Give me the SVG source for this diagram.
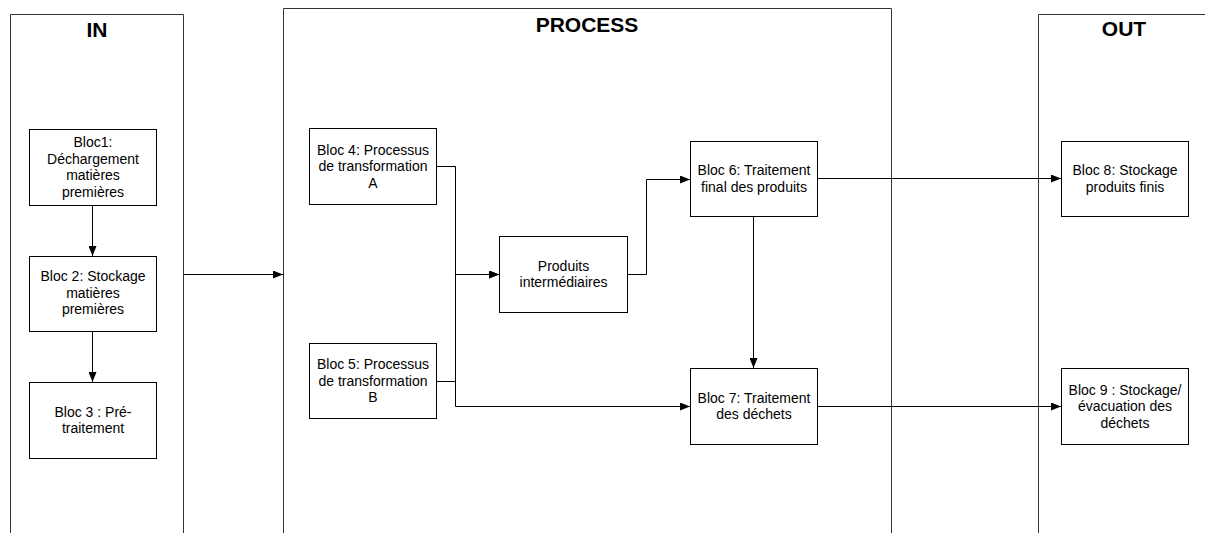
<svg xmlns="http://www.w3.org/2000/svg" width="1205" height="533" viewBox="0 0 1205 533">
  <style>
    .lane { fill: none; stroke: #333; stroke-width: 1; }
    .box { fill: #fff; stroke: #000; stroke-width: 1; }
    .title { font-family: "Liberation Sans", Arial, sans-serif; font-size: 21px; font-weight: bold; text-anchor: middle; fill: #000; }
    .t { font-family: "Liberation Sans", Arial, sans-serif; font-size: 14px; text-anchor: middle; fill: #000; }
    .c { fill: none; stroke: #000; stroke-width: 1; }
  </style>
  <defs>
    <marker id="arr" markerUnits="userSpaceOnUse" markerWidth="10" markerHeight="8" refX="10" refY="4" orient="auto">
      <path d="M0,0 L10,4 L0,8 z" fill="#000"/>
    </marker>
  </defs>
  <rect width="1205" height="533" fill="#fff"/>

  <g id="lane-in">
    <path class="lane" d="M10.5,540 V14.5 H183.5 V540"/>
    <text class="title" x="97" y="37">IN</text>
  </g>
  <g id="lane-process">
    <path class="lane" d="M283.5,540 V8.5 H891.5 V540"/>
    <text class="title" x="587" y="31.5">PROCESS</text>
  </g>
  <g id="lane-out">
    <path class="lane" d="M1038.5,540 V14.5 H1215"/>
    <text class="title" x="1124" y="36">OUT</text>
  </g>

  <g id="connectors">
    <path class="c" d="M92.5,205 V256" marker-end="url(#arr)"/>
    <path class="c" d="M92.5,331 V382" marker-end="url(#arr)"/>
    <path class="c" d="M184,274.5 H283" marker-end="url(#arr)"/>
    <path class="c" d="M436,166.5 H455.5 V274.5 H499" marker-end="url(#arr)"/>
    <path class="c" d="M436,381.5 H455.5 V274.5 H499" marker-end="url(#arr)"/>
    <path class="c" d="M436,381.5 H455.5 V406.5 H690" marker-end="url(#arr)"/>
    <path class="c" d="M627,274.5 H646.5 V179.5 H690" marker-end="url(#arr)"/>
    <path class="c" d="M753.5,216 V368" marker-end="url(#arr)"/>
    <path class="c" d="M817,178.5 H1061" marker-end="url(#arr)"/>
    <path class="c" d="M817,406.5 H1061" marker-end="url(#arr)"/>
  </g>

  <g id="bloc1">
    <rect class="box" x="29.5" y="129.5" width="127" height="76"/>
    <text class="t" x="93" y="147">Bloc1:</text>
    <text class="t" x="93" y="163.5">Déchargement</text>
    <text class="t" x="93" y="180">matières</text>
    <text class="t" x="93" y="196.5">premières</text>
  </g>
  <g id="bloc2">
    <rect class="box" x="29.5" y="256.5" width="127" height="75"/>
    <text class="t" x="93" y="281">Bloc 2: Stockage</text>
    <text class="t" x="93" y="297.5">matières</text>
    <text class="t" x="93" y="314">premières</text>
  </g>
  <g id="bloc3">
    <rect class="box" x="29.5" y="382.5" width="127" height="76"/>
    <text class="t" x="93" y="416.5">Bloc 3 : Pré-</text>
    <text class="t" x="93" y="433">traitement</text>
  </g>
  <g id="bloc4">
    <rect class="box" x="309.5" y="128.5" width="127" height="76"/>
    <text class="t" x="373" y="154.5">Bloc 4: Processus</text>
    <text class="t" x="373" y="171">de transformation</text>
    <text class="t" x="373" y="187.5">A</text>
  </g>
  <g id="bloc5">
    <rect class="box" x="309.5" y="343.5" width="127" height="75"/>
    <text class="t" x="373" y="369">Bloc 5: Processus</text>
    <text class="t" x="373" y="385.5">de transformation</text>
    <text class="t" x="373" y="402">B</text>
  </g>
  <g id="produits">
    <rect class="box" x="499.5" y="236.5" width="128" height="76"/>
    <text class="t" x="563.5" y="270.5">Produits</text>
    <text class="t" x="563.5" y="287">intermédiaires</text>
  </g>
  <g id="bloc6">
    <rect class="box" x="690.5" y="141.5" width="127" height="75"/>
    <text class="t" x="754" y="175">Bloc 6: Traitement</text>
    <text class="t" x="754" y="191.5">final des produits</text>
  </g>
  <g id="bloc7">
    <rect class="box" x="690.5" y="368.5" width="127" height="76"/>
    <text class="t" x="754" y="402.5">Bloc 7: Traitement</text>
    <text class="t" x="754" y="419">des déchets</text>
  </g>
  <g id="bloc8">
    <rect class="box" x="1061.5" y="141.5" width="127" height="75"/>
    <text class="t" x="1125" y="175">Bloc 8: Stockage</text>
    <text class="t" x="1125" y="191.5">produits finis</text>
  </g>
  <g id="bloc9">
    <rect class="box" x="1061.5" y="368.5" width="127" height="76"/>
    <text class="t" x="1125" y="394.5">Bloc 9 : Stockage/</text>
    <text class="t" x="1125" y="411">évacuation des</text>
    <text class="t" x="1125" y="427.5">déchets</text>
  </g>
</svg>
